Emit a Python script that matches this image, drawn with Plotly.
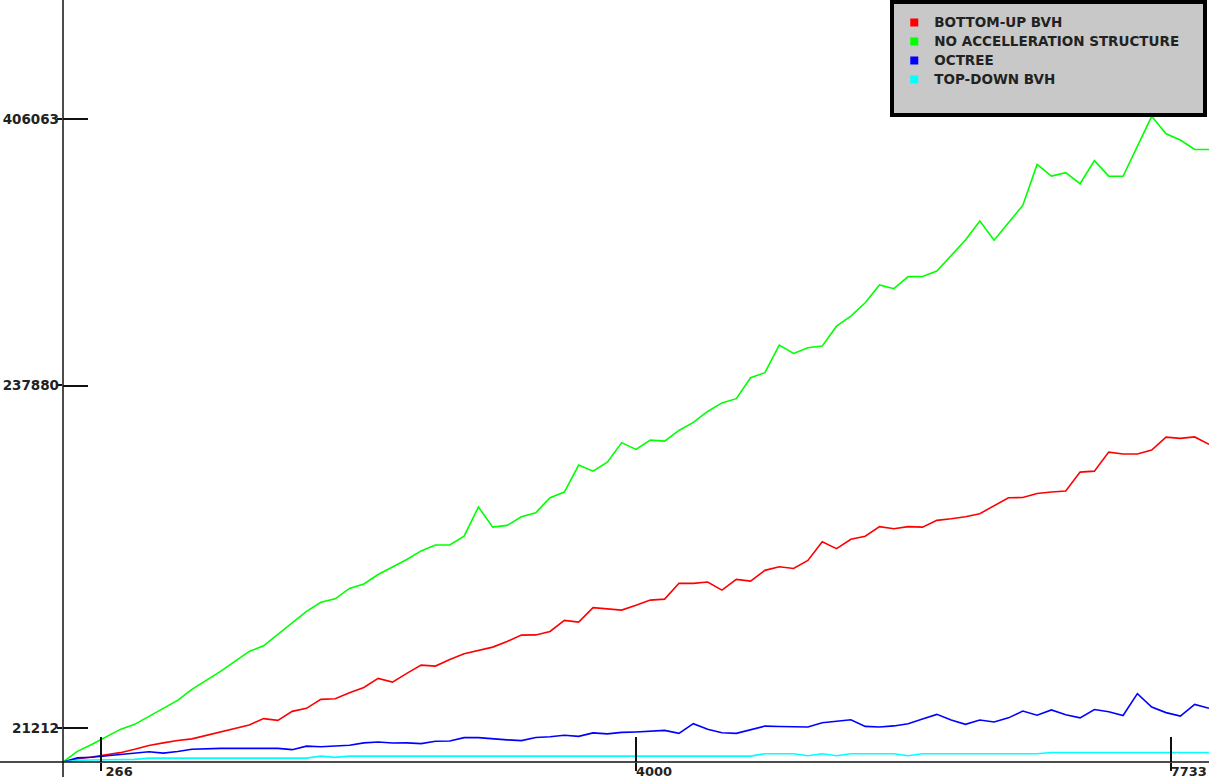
import plotly.graph_objects as go

# ---- data ----
x_vals = [0, 100, 200, 300, 400, 500, 600, 700, 800, 900,
          1000, 1100, 1200, 1300, 1400, 1500, 1600, 1700, 1800, 1900,
          2000, 2100, 2200, 2300, 2400, 2500, 2600, 2700, 2800, 2900,
          3000, 3100, 3200, 3300, 3400, 3500, 3600, 3700, 3800, 3900,
          4000, 4100, 4200, 4300, 4400, 4500, 4600, 4700, 4800, 4900,
          5000, 5100, 5200, 5300, 5400, 5500, 5600, 5700, 5800, 5900,
          6000, 6100, 6200, 6300, 6400, 6500, 6600, 6700, 6800, 6900,
          7000, 7100, 7200, 7300, 7400, 7500, 7600, 7700, 7800, 7900,
          8000]

bottom_up_bvh = [0, 2000, 3200, 4500, 5900, 8000, 10400, 12100, 13600, 14600,
                 16800, 19000, 21500, 23400, 27400, 26300, 32000, 33900, 39600, 40000,
                 43800, 47100, 52800, 50500, 56000, 61200, 60600, 64800, 68400, 70500,
                 72600, 76200, 80200, 80300, 82500, 89500, 88400, 97500, 96900, 96000,
                 99000, 102300, 102900, 112900, 112900, 113700, 108600, 115400, 114300, 121100,
                 123400, 122300, 127400, 139200, 134800, 140700, 142700, 148700, 147400, 148700,
                 148400, 152700, 153700, 155000, 156900, 162100, 167000, 167100, 169700, 170600,
                 171200, 183200, 183800, 195800, 194600, 194600, 197100, 205300, 204500, 205400,
                 200700]

no_acceleration = [0, 6700, 11100, 15900, 20600, 23800, 28800, 33900, 38900, 45900,
                   51600, 57300, 63600, 69900, 73400, 80600, 87900, 95200, 100900, 103100,
                   109700, 112500, 118500, 123000, 128000, 133400, 137100, 137200, 142700, 161100,
                   148400, 149500, 155000, 157500, 167000, 170600, 187600, 183800, 189500, 201800,
                   197500, 203400, 202800, 209500, 214600, 221500, 226900, 229600, 242800, 246000,
                   263400, 258200, 261800, 262800, 275400, 281800, 290200, 301400, 299100, 306700,
                   306800, 310200, 319700, 329800, 341800, 329700, 340800, 351700, 377600, 370200,
                   372400, 365400, 380000, 370200, 370100, 389600, 408000, 397000, 393000, 387100,
                   387000]

octree = [0, 2600, 3000, 3900, 4800, 5800, 6500, 5600, 6600, 8100,
          8500, 8600, 8600, 8600, 8600, 8600, 7800, 10000, 9600, 10200,
          10600, 12100, 12600, 12000, 12100, 11600, 13100, 13300, 15400, 15400,
          14600, 14000, 13500, 15500, 16000, 16900, 16200, 18400, 17800, 18700,
          19000, 19500, 20000, 18100, 24200, 20700, 18500, 18100, 20600, 22700,
          22400, 22200, 22100, 24800, 25700, 26700, 22500, 22100, 22800, 24200,
          27100, 30100, 26500, 23800, 26500, 25300, 27900, 32200, 29600, 32900,
          29900, 27900, 33200, 31800, 29400, 43200, 34700, 31200, 29000, 36400,
          33900]

top_down_bvh = [0, 1000, 1300, 1450, 1650, 1650, 2450, 2450, 2450, 2450,
                2450, 2450, 2450, 2450, 2450, 2450, 2450, 2450, 3700, 2900,
                3700, 3700, 3700, 3700, 3700, 3700, 3700, 3700, 3700, 3700,
                3700, 3700, 3700, 3700, 3700, 3700, 3700, 3700, 3700, 3700,
                3700, 3700, 3700, 3700, 3700, 3700, 3700, 3700, 3700, 5250,
                5250, 5250, 4000, 5250, 4000, 5250, 5250, 5250, 5250, 4000,
                5250, 5250, 5250, 5250, 5250, 5250, 5250, 5250, 5250, 6050,
                6050, 6050, 6050, 6050, 6050, 6050, 6050, 6050, 6050, 6050,
                6050]

series_names = ["BOTTOM-UP BVH", "NO ACCELLERATION STRUCTURE", "OCTREE", "TOP-DOWN BVH"]
series_values = [bottom_up_bvh, no_acceleration, octree, top_down_bvh]
series_colors = ["#ff0000", "#00ff00", "#0000ff", "#00ffff"]

x_tick_vals = [266, 4000, 7733]
x_tick_text = ["266", "4000", "7733"]
y_tick_vals = [21212, 237880, 406063]
y_tick_text = ["21212", "237880", "406063"]

# ---- figure ----
fig = go.Figure()
for name, ys, color in zip(series_names, series_values, series_colors):
    fig.add_trace(go.Scatter(x=x_vals, y=ys, mode="lines", name=name,
                             line=dict(color=color, width=1.6),
                             showlegend=False, hoverinfo="skip"))
pad = "\u00a0\u00a0\u00a0\u00a0"
for name, color in zip(series_names, series_colors):
    fig.add_trace(go.Scatter(x=[None], y=[None], mode="markers",
                             name="<span style='font-size:13.5px'>" + name + pad + "</span>",
                             marker=dict(symbol="square", size=8, color=color)))
fig.add_trace(go.Scatter(x=[None], y=[None], mode="markers", name=" ",
                         marker=dict(symbol="square", size=8, color="rgba(0,0,0,0)")))

font = dict(family="DejaVu Sans", size=13.5, color="#222222", weight="bold")
legend_font = dict(family="DejaVu Sans", size=12.3, color="#222222", weight="bold")
axis_col = "#111111"

fig.update_layout(
    width=1209, height=777,
    margin=dict(l=63, r=0, t=0, b=15, autoexpand=False),
    paper_bgcolor="white", plot_bgcolor="white",
    font=font,
    showlegend=True,
    legend=dict(x=0.9985, y=1.0, xanchor="right", yanchor="top",
                bgcolor="#c8c8c8", bordercolor="#000000", borderwidth=4,
                font=legend_font, tracegroupgap=0,
                title=dict(text="\u00a0", font=dict(size=3))),
    xaxis=dict(range=[0, 8000], tickmode="array", tickvals=x_tick_vals, ticktext=x_tick_text,
               automargin=False, tickfont=dict(size=13),
               ticks="inside", ticklen=25, tickwidth=1.5, tickcolor=axis_col,
               showline=False, showgrid=False, zeroline=False,
               ticklabelshift=18, ticklabelstandoff=0,
               minor=dict(tickmode="array", tickvals=[v + 0.5 for v in x_tick_vals],
                          ticks="outside", ticklen=8, tickwidth=1.5, tickcolor=axis_col,
                          showgrid=False)),
    yaxis=dict(range=[0, 481500], tickmode="array", tickvals=y_tick_vals, ticktext=y_tick_text,
               automargin=False,
               ticks="inside", ticklen=25, tickwidth=1.5, tickcolor=axis_col,
               showline=False, showgrid=False, zeroline=False, ticklabelstandoff=3,
               minor=dict(tickmode="array", tickvals=[v + 30 for v in y_tick_vals],
                          ticks="outside", ticklen=5, tickwidth=1.5, tickcolor=axis_col,
                          showgrid=False)),
    shapes=[
        dict(type="line", xref="paper", yref="paper", x0=-0.06, x1=1.0, y0=0, y1=0,
             line=dict(color=axis_col, width=1.5), layer="above"),
        dict(type="line", xref="paper", yref="paper", x0=0, x1=0, y0=-0.03, y1=1.0,
             line=dict(color=axis_col, width=1.5), layer="above"),
    ],
)

fig.write_html("out.html",
               config={"displayModeBar": False},
               post_script="document.body.style.margin='0px';document.body.style.overflow='hidden';")
